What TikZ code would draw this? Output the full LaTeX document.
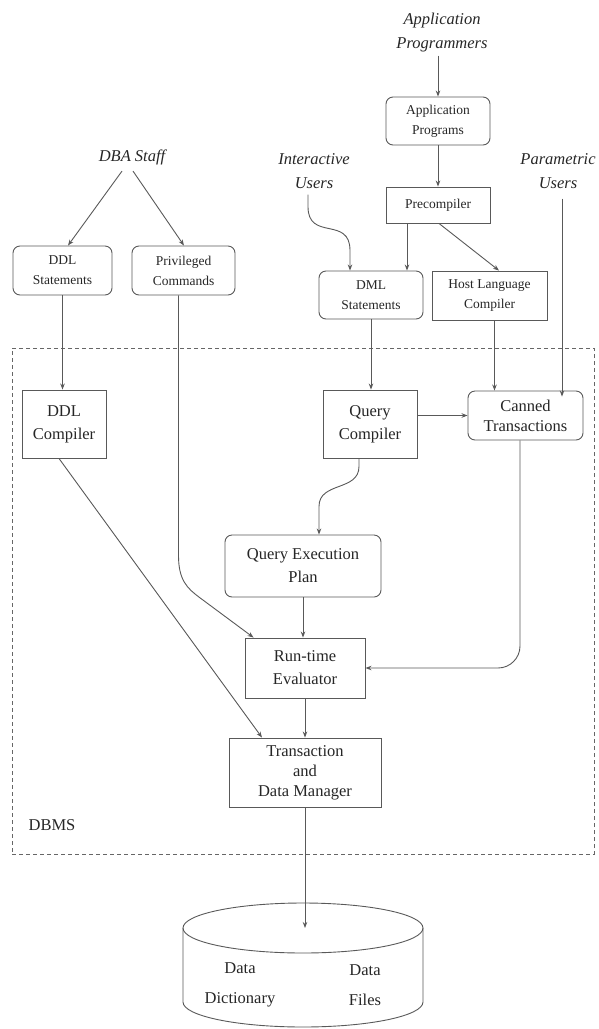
\documentclass[tikz,border=0pt]{standalone}
\usepackage{fontspec}
\setmainfont{Liberation Serif}
\usetikzlibrary{arrows.meta,calc}
\begin{document}
\begin{tikzpicture}[x=1pt,y=-1pt,
  every node/.style={text=black!85},
  big/.style={font=\fontsize{16.5}{23}\selectfont},
  bigtight/.style={font=\fontsize{16.5}{20}\selectfont},
  small/.style={font=\fontsize{13.5}{20}\selectfont},
  lbl/.style={font=\fontsize{16.5}{24}\selectfont\itshape, align=center},
  box/.style={draw=black!65, line width=0.9pt, align=center, inner sep=0pt},
  rbox/.style={box, rounded corners=7pt},
  conn/.style={draw=black!65, line width=0.9pt},
  arr/.style={conn, -{Stealth[length=6pt,width=4.5pt]}},
  dbmsbox/.style={draw=black!60, line width=0.9pt, dash pattern=on 4pt off 3pt, inner sep=0pt},
]
\useasboundingbox (0,0) rectangle (599,1029);

% labels
\node[lbl] (ap) at (442,32.5) {Application\\Programmers};
\node[lbl] (dba) at (132,157) {DBA Staff};
\node[lbl] (inter) at (314,171.5) {Interactive\\Users};
\node[lbl] (param) at (558,171.5) {Parametric\\Users};

% upper boxes
\node[rbox,small,minimum width=104pt,minimum height=48pt] (approg) at (438,121) {Application\\Programs};
\node[box,small,minimum width=104pt,minimum height=36pt] (precomp) at (438,205) {Precompiler};
\node[rbox,small,minimum width=99pt,minimum height=49pt] (ddlst) at (62.5,270.5) {DDL\\Statements};
\node[rbox,small,minimum width=103pt,minimum height=49pt] (priv) at (183.5,270.5) {Privileged\\Commands};
\node[rbox,small,minimum width=104pt,minimum height=48pt] (dml) at (371,295) {DML\\Statements};
\node[box,small,minimum width=115pt,minimum height=49pt] (host) at (489.5,295.5) {Host Language\\Compiler};

% DBMS frame
\node[dbmsbox,minimum width=582pt,minimum height=506pt] (dbms) at (303,601) {};
\node[big] (dbmsl) at (52,825) {DBMS};

% inner boxes
\node[box,big,minimum width=84pt,minimum height=68pt] (ddlc) at (64,424) {DDL\\Compiler};
\node[box,big,minimum width=94pt,minimum height=68pt] (qc) at (370,424) {Query\\Compiler};
\node[rbox,bigtight,minimum width=115pt,minimum height=49pt] (canned) at (525.5,415.5) {Canned\\Transactions};
\node[rbox,big,minimum width=156pt,minimum height=62pt] (qep) at (303,566) {Query Execution\\Plan};
\node[box,big,minimum width=120pt,minimum height=60pt] (rte) at (305,668) {Run-time\\Evaluator};
\node[box,bigtight,minimum width=152pt,minimum height=69pt] (tdm) at (305,772.5) {Transaction\\and\\Data Manager};

% database cylinder
\coordinate (dbc) at (303,928);
\draw[conn] (dbc) ellipse[x radius=120pt,y radius=25pt];
\draw[conn] (183,928) -- (183,1002) arc[start angle=180,end angle=360,x radius=120pt,y radius=25pt] -- (423,928);
\node[font=\fontsize{16.5}{30}\selectfont, align=center] (dd) at (240,985) {Data\\Dictionary};
\node[font=\fontsize{16.5}{30}\selectfont, align=center] (df) at (365,985) {Data\\Files};

% connectors
\draw[arr] (approg.north |- ap.south) -- (approg.north);
\draw[arr] (approg.south) -- (precomp.north);
\draw[arr] ([xshift=-10pt,yshift=-3pt]dba.south) -- ([xshift=5.5pt]ddlst.north);
\draw[arr] ([xshift=1pt,yshift=-3pt]dba.south) -- ([xshift=0.5pt]priv.north);
\draw[arr] ([xshift=-6pt,yshift=-2pt]inter.south) -- ++(0,12)
   .. controls +(0,35) and +(0,-35) .. ([xshift=-21pt,yshift=20pt]dml.north)
   -- ([xshift=-21pt]dml.north);
\draw[arr] ([xshift=-31pt]precomp.south) -- ([xshift=-31pt]precomp.south |- dml.north);
\draw[arr] ([xshift=1pt]precomp.south) -- ([xshift=9.5pt]host.north);
\draw[arr] ([xshift=4pt,yshift=-6pt]param.south) -- ([xshift=4pt,yshift=-6pt]param.south |- canned.north);

\draw[arr] (ddlst.south) -- (ddlst.south |- ddlc.north);
\draw[arr] (dml.south) -- (dml.south |- qc.north);
\draw[arr] ([xshift=5pt]host.south) -- ([xshift=5pt]host.south |- canned.north);
\draw[arr] (canned.west -| qc.east) -- (canned.west);

\draw[arr] ([xshift=-11pt]qc.south) -- ++(0,8)
   .. controls +(0,25) and +(0,-25) .. ++(-40,40)
   -- ([xshift=16pt]qep.north);
\draw[arr] ([xshift=-5pt]priv.south) -- ++(0,260)
   .. controls +(0,25) and +(-12,-9) .. ++(21,42)
   -- ([xshift=9pt]rte.north west);
\draw[arr] (qep.south) -- (qep.south |- rte.north);
\draw[arr, rounded corners=22pt] ([xshift=-5.5pt]canned.south) |- (rte.east);
\draw[arr] (rte.south) -- (rte.south |- tdm.north);
\draw[arr] ([xshift=-5pt]ddlc.south) -- ([xshift=-43pt]tdm.north);
\draw[arr] (tdm.south) -- (tdm.south |- dbc);
\end{tikzpicture}
\end{document}
